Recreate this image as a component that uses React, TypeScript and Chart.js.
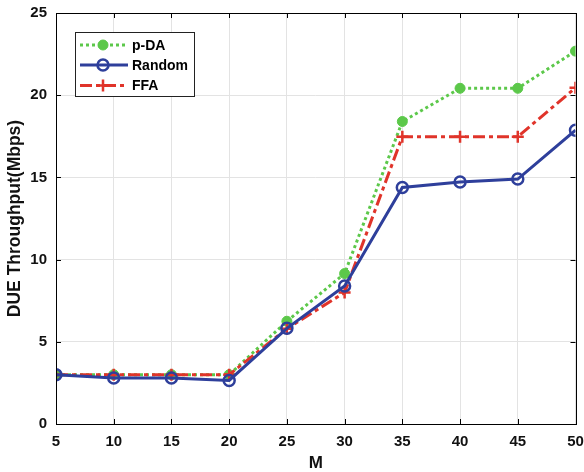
import React, { useEffect, useRef } from "react";
import { Chart, registerables } from "chart.js";

Chart.register(...registerables);

const categories = [5, 10, 15, 20, 25, 30, 35, 40, 45, 50];
const pdaValues = [3.0, 3.0, 3.0, 3.0, 6.25, 9.15, 18.4, 20.42, 20.42, 22.68];
const randomValues = [2.99, 2.8, 2.8, 2.65, 5.82, 8.4, 14.39, 14.72, 14.9, 17.87];
const ffaValues = [3.0, 3.0, 3.0, 3.0, 5.8, 8.0, 17.48, 17.48, 17.48, 20.45];
const yTicks = [0, 5, 10, 15, 20, 25];
const seriesNames = ["p-DA", "Random", "FFA"];

const FONT = "'Liberation Sans', Arial, sans-serif";

function drawPt(ctx: CanvasRenderingContext2D, style: string, x: number, y: number, r: number) {
  ctx.beginPath();
  if (style === "cross") {
    ctx.moveTo(x - r, y);
    ctx.lineTo(x + r, y);
    ctx.moveTo(x, y - r);
    ctx.lineTo(x, y + r);
    ctx.stroke();
  } else {
    ctx.arc(x, y, r, 0, Math.PI * 2);
    ctx.fill();
    ctx.stroke();
  }
}

const boxPlugin = {
  id: "matlabBox",
  afterDraw(chart: any) {
    const { ctx, chartArea: a, scales } = chart;
    ctx.save();
    ctx.strokeStyle = "#000";
    ctx.lineWidth = 1;
    ctx.strokeRect(Math.round(a.left) + 0.5, Math.round(a.top) + 0.5, Math.round(a.right - a.left), Math.round(a.bottom - a.top));
    const tl = 5;
    ctx.beginPath();
    categories.forEach((c) => {
      const x = Math.round(scales.x.getPixelForValue(c)) + 0.5;
      ctx.moveTo(x, a.bottom);
      ctx.lineTo(x, a.bottom - tl);
      ctx.moveTo(x, a.top);
      ctx.lineTo(x, a.top + tl);
    });
    yTicks.forEach((v) => {
      const y = Math.round(scales.y.getPixelForValue(v)) + 0.5;
      ctx.moveTo(a.left, y);
      ctx.lineTo(a.left + tl, y);
      ctx.moveTo(a.right, y);
      ctx.lineTo(a.right - tl, y);
    });
    ctx.stroke();

    // legend
    const lx = 75.5, ly = 32.5, lw = 119, lh = 64;
    ctx.fillStyle = "#fff";
    ctx.fillRect(lx, ly, lw, lh);
    ctx.strokeStyle = "#222";
    ctx.strokeRect(lx, ly, lw, lh);
    const rows = [45, 65, 85.5];
    chart.data.datasets.forEach((ds: any, i: number) => {
      const y = rows[i];
      ctx.save();
      ctx.strokeStyle = ds.borderColor;
      ctx.lineWidth = ds.borderWidth;
      ctx.setLineDash(ds.borderDash || []);
      ctx.beginPath();
      ctx.moveTo(80, y);
      ctx.lineTo(128, y);
      ctx.stroke();
      ctx.restore();
      ctx.save();
      ctx.setLineDash([]);
      ctx.fillStyle = ds.pointBackgroundColor;
      ctx.strokeStyle = ds.pointBorderColor;
      ctx.lineWidth = ds.pointBorderWidth;
      drawPt(ctx, ds.pointStyle, 103, y, ds.pointRadius);
      ctx.restore();
      ctx.fillStyle = "#000";
      ctx.font = `bold 14px ${FONT}`;
      ctx.textBaseline = "middle";
      ctx.textAlign = "left";
      ctx.fillText(ds.label, 132, y + 1);
    });
    ctx.restore();
  },
};

export default function App() {
  const ref = useRef<HTMLCanvasElement>(null);
  useEffect(() => {
    const chart = new Chart(ref.current!, {
      type: "line",
      data: {
        labels: categories,
        datasets: [
          {
            label: seriesNames[0],
            data: categories.map((c, i) => ({ x: c, y: pdaValues[i] })),
            borderColor: "#5cc84a",
            borderWidth: 3,
            borderDash: [3, 3],
            pointStyle: "circle",
            pointRadius: 5,
            pointBackgroundColor: "#5cc84a",
            pointBorderColor: "#5cc84a",
            pointBorderWidth: 1,
            order: 3,
          },
          {
            label: seriesNames[1],
            data: categories.map((c, i) => ({ x: c, y: randomValues[i] })),
            borderColor: "#2e3f9b",
            borderWidth: 3,
            pointStyle: "circle",
            pointRadius: 5.5,
            pointBackgroundColor: "rgba(255,255,255,0)",
            pointBorderColor: "#2e3f9b",
            pointBorderWidth: 2.5,
            order: 1,
          },
          {
            label: seriesNames[2],
            data: categories.map((c, i) => ({ x: c, y: ffaValues[i] })),
            borderColor: "#e0342a",
            borderWidth: 3,
            borderDash: [12, 4, 4, 4],
            pointStyle: "cross",
            pointRadius: 6,
            pointBackgroundColor: "#e0342a",
            pointBorderColor: "#e0342a",
            pointBorderWidth: 2.5,
            order: 2,
          },
        ] as any,
      },
      options: {
        animation: false,
        responsive: true,
        maintainAspectRatio: false,
        layout: { padding: { top: 13, right: 7, left: 0, bottom: 0 } },
        plugins: { legend: { display: false }, tooltip: { enabled: false } },
        elements: { line: { tension: 0 } },
        scales: {
          x: {
            type: "linear",
            min: 5,
            max: 50,
            afterBuildTicks: (s: any) => {
              s.ticks = categories.map((v) => ({ value: v }));
            },
            afterFit: (s: any) => {
              s.height = 48;
              s.paddingLeft = 0;
              s.paddingRight = 0;
            },
            grid: { color: "#e3e3e3", drawTicks: false },
            border: { display: false },
            ticks: {
              padding: 9,
              color: "#111",
              font: { family: FONT, size: 15, weight: "bold" },
              maxRotation: 0,
            },
            title: {
              display: true,
              text: "M",
              color: "#111",
              font: { family: FONT, size: 17, weight: "bold", lineHeight: 1.05 },
              padding: { top: 0, bottom: 0 },
            },
          },
          y: {
            type: "linear",
            min: 0,
            max: 25,
            afterBuildTicks: (s: any) => {
              s.ticks = yTicks.map((v) => ({ value: v }));
            },
            afterFit: (s: any) => {
              s.width = 56;
              s.paddingTop = 0;
              s.paddingBottom = 0;
            },
            grid: { color: "#e3e3e3", drawTicks: false },
            border: { display: false },
            ticks: {
              padding: 9,
              color: "#111",
              font: { family: FONT, size: 15, weight: "bold" },
            },
            title: {
              display: true,
              text: "DUE Throughput(Mbps)",
              color: "#111",
              font: { family: FONT, size: 17.5, weight: "bold" },
              padding: { top: 5, bottom: 0 },
            },
          },
        },
      } as any,
      plugins: [boxPlugin],
    });
    return () => chart.destroy();
  }, []);
  return (
    <div style={{ position: "fixed", left: 0, top: 0, width: 584, height: 472, background: "#fff" }}>
      <canvas ref={ref} />
    </div>
  );
}
